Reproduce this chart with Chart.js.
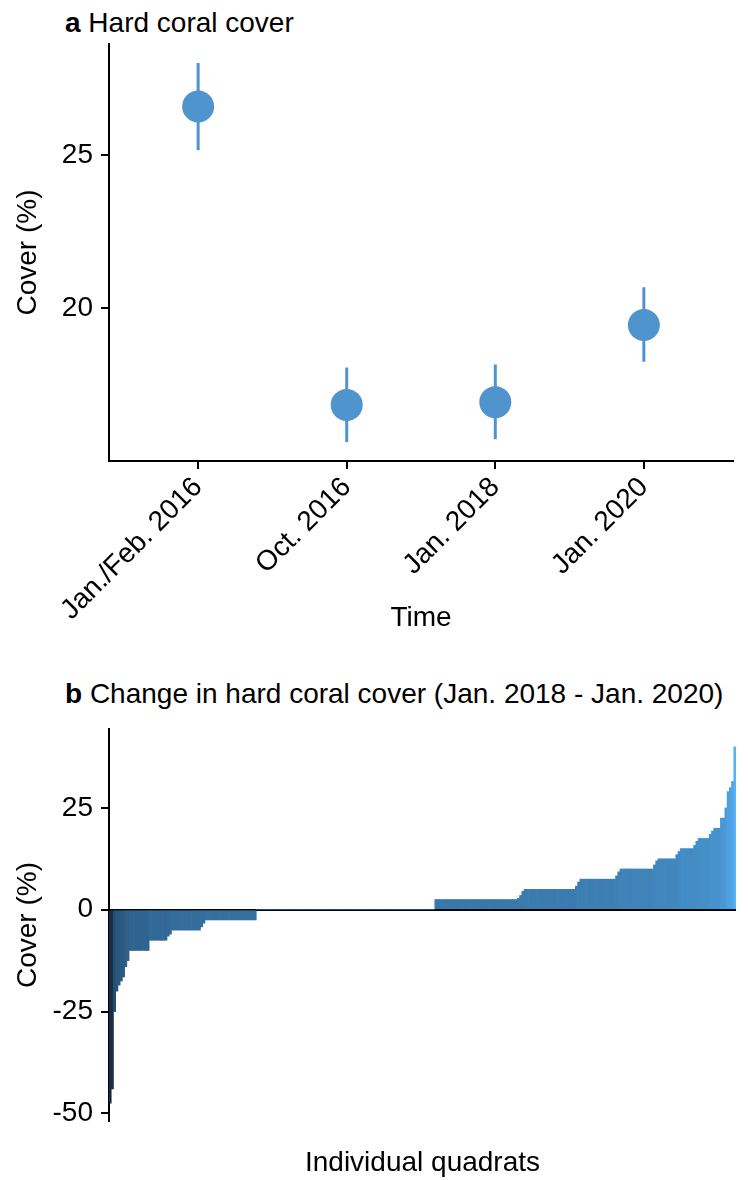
<!DOCTYPE html>
<html>
<head>
<meta charset="utf-8">
<title>Hard coral cover</title>
<script src="https://cdn.jsdelivr.net/npm/chart.js@4.4.1/dist/chart.umd.min.js"></script>
<style>
  html, body { margin: 0; padding: 0; background: #fff; }
  body {
    width: 749px; height: 1180px; position: relative; overflow: hidden;
    font-family: "Liberation Sans", Arial, sans-serif;
  }
  .panel-title {
    position: absolute; left: 65px;
    font-size: 28px; line-height: 28px; color: #000; white-space: nowrap;
  }
  #chartA { position: absolute; left: 0; top: 0; }
  #chartB { position: absolute; left: 0; top: 640px; }
</style>
</head>
<body>
<div class="panel-title" style="top:9px"><b>a</b> Hard coral cover</div>
<div class="panel-title" style="top:680px"><b>b</b> Change in hard coral cover (Jan. 2018 - Jan. 2020)</div>
<canvas id="chartA" width="749" height="640"></canvas>
<canvas id="chartB" width="749" height="540"></canvas>

<script>
/* ---------- data: panel a ---------- */
const timeLabels = ['Jan./Feb. 2016', 'Oct. 2016', 'Jan. 2018', 'Jan. 2020'];
const coverMean  = [26.58, 16.84, 16.93, 19.45];
const coverLow   = [25.15, 15.63, 15.72, 18.25];
const coverHigh  = [28.00, 18.06, 18.16, 20.68];
const coverTicks = [20, 25];

/* ---------- data: panel b (sorted change per quadrat) ---------- */
const changeTicks = [-50, -25, 0, 25];
const changeValues = [
  -47.5, -44, -25, -20, -18.5, -17.5, -16.5, -14, -12.5,
  -10, -10, -10, -10, -10, -10, -10, -10, -10,
  -7.5, -7.5, -7.5, -7.5, -7.5, -7.5, -7.5, -7.5,
  -6.5, -6,
  -5, -5, -5, -5, -5, -5, -5, -5, -5, -5, -5, -5, -5,
  -4.2, -3.3,
  -2.5, -2.5, -2.5, -2.5, -2.5, -2.5, -2.5, -2.5, -2.5, -2.5,
  -2.5, -2.5, -2.5, -2.5, -2.5, -2.5, -2.5, -2.5, -2.5, -2.5,
  -2.5, -2.5, -2.5,
  0, 0, 0, 0, 0, 0, 0, 0, 0, 0, 0, 0, 0, 0, 0, 0, 0, 0, 0, 0,
  0, 0, 0, 0, 0, 0, 0, 0, 0, 0, 0, 0, 0, 0, 0, 0, 0, 0, 0, 0,
  0, 0, 0, 0, 0, 0, 0, 0, 0, 0, 0, 0, 0, 0, 0, 0, 0, 0, 0, 0,
  0, 0, 0, 0, 0, 0, 0, 0, 0, 0, 0, 0, 0, 0, 0, 0, 0, 0, 0, 0,
  2.5, 2.5, 2.5, 2.5, 2.5, 2.5, 2.5, 2.5, 2.5, 2.5,
  2.5, 2.5, 2.5, 2.5, 2.5, 2.5, 2.5, 2.5, 2.5, 2.5,
  2.5, 2.5, 2.5, 2.5, 2.5, 2.5, 2.5, 2.5, 2.5, 2.5,
  2.5, 2.5, 2.5, 2.5, 2.5, 2.5, 2.5,
  2.8, 3.5, 4.5,
  5, 5, 5, 5, 5, 5, 5, 5, 5, 5, 5, 5,
  5, 5, 5, 5, 5, 5, 5, 5, 5, 5, 5,
  5.8, 6.8,
  7.5, 7.5, 7.5, 7.5, 7.5, 7.5, 7.5, 7.5,
  7.5, 7.5, 7.5, 7.5, 7.5, 7.5, 7.5, 7.5,
  8.3, 9.3,
  10, 10, 10, 10, 10, 10, 10, 10, 10, 10, 10, 10, 10, 10, 10,
  11, 12,
  12.5, 12.5, 12.5, 12.5, 12.5, 12.5, 12.5, 12.5,
  13.5, 14.3,
  15, 15, 15, 15, 15, 15,
  15.8, 16.8,
  17.5, 17.5, 17.5, 17.5, 17.5,
  18.5, 19.3,
  20, 20, 20,
  22.5, 22.5,
  25,
  29, 30,
  31.5,
  40
];

/* ---------- shared styles ---------- */
const dotColor = 'rgb(80,148,206)';
const font = { family: 'Liberation Sans', size: 28 };
const lowColor  = [19, 43, 67];    // #132B43
const highColor = [86, 177, 247];  // #56B1F7

function gradientColor(v, min, max) {
  const t = (v - min) / (max - min);
  const c = lowColor.map((lo, i) => Math.round(lo + t * (highColor[i] - lo)));
  return 'rgb(' + c.join(',') + ')';
}

function axisStyle() {
  return {
    grid: { drawOnChartArea: false, color: '#000', lineWidth: 2, tickLength: 8 },
    border: { color: '#000', width: 2 },
  };
}

Chart.defaults.color = '#000';
Chart.defaults.font.family = 'Liberation Sans';

/* ---------- panel a ---------- */
function initCoverChart() {
  const errorSegments = [];
  coverMean.forEach((_, i) => {
    errorSegments.push({ x: i, y: coverLow[i] }, { x: i, y: coverHigh[i] }, { x: i, y: null });
  });

  new Chart(document.getElementById('chartA'), {
    type: 'scatter',
    data: {
      datasets: [
        {
          data: coverMean.map((y, i) => ({ x: i, y: y })),
          backgroundColor: dotColor,
          borderWidth: 0,
          pointRadius: 16,
          pointHoverRadius: 16,
          order: 0,
        },
        {
          type: 'line',
          data: errorSegments,
          borderColor: dotColor,
          borderWidth: 3,
          pointRadius: 0,
          spanGaps: false,
          order: 1,
        },
      ],
    },
    options: {
      responsive: false,
      animation: false,
      layout: { padding: { top: 44, right: 13, left: 0, bottom: 0 } },
      plugins: { legend: { display: false }, tooltip: { enabled: false } },
      scales: {
        x: {
          type: 'linear',
          min: -0.6,
          max: 3.6,
          ...axisStyle(),
          afterBuildTicks: s => { s.ticks = timeLabels.map((_, i) => ({ value: i })); },
          afterFit: s => { s.height = 179; },
          ticks: {
            callback: v => timeLabels[v],
            autoSkip: false,
            minRotation: 45,
            maxRotation: 45,
            padding: 2,
            font: font,
          },
          title: { display: true, text: 'Time', font: font, padding: { top: 0, bottom: 5 } },
        },
        y: {
          min: 15.01,
          max: 28.62,
          ...axisStyle(),
          afterBuildTicks: s => { s.ticks = coverTicks.map(v => ({ value: v })); },
          afterFit: s => { s.width = 109; },
          ticks: { padding: 8, font: font },
          title: { display: true, text: 'Cover (%)', font: font, padding: { top: 11, bottom: 0 } },
        },
      },
    },
  });
}

/* ---------- panel b ---------- */
function initChangeChart() {
  const vMin = Math.min(...changeValues);
  const vMax = Math.max(...changeValues);
  const barColors = changeValues.map(v => gradientColor(v, vMin, vMax));

  new Chart(document.getElementById('chartB'), {
    type: 'bar',
    data: {
      labels: changeValues.map((_, i) => i + 1),
      datasets: [
        {
          data: changeValues,
          backgroundColor: barColors,
          borderWidth: 0,
          barPercentage: 1,
          categoryPercentage: 1,
        },
      ],
    },
    options: {
      responsive: false,
      animation: false,
      layout: { padding: { top: 89, right: 13, left: 0, bottom: 0 } },
      plugins: { legend: { display: false }, tooltip: { enabled: false } },
      scales: {
        x: {
          ticks: { display: false },
          grid: { display: false },
          border: { display: false },
          afterFit: s => { s.height = 59; },
          title: { display: true, text: 'Individual quadrats', font: font, padding: { top: 0, bottom: 0 } },
        },
        y: {
          min: -51.875,
          max: 44.375,
          z: 1,
          afterBuildTicks: s => { s.ticks = changeTicks.map(v => ({ value: v })); },
          afterFit: s => { s.width = 109; },
          grid: {
            // only the zero line is drawn across the panel
            color: c => (c.tick && c.tick.value === 0 ? '#000' : 'rgba(0,0,0,0)'),
            tickColor: '#000',
            lineWidth: 2,
            tickWidth: 2,
            tickLength: 8,
          },
          border: { color: '#000', width: 2 },
          ticks: { padding: 8, font: font, callback: v => String(v) },
          title: { display: true, text: 'Cover (%)', font: font, padding: { top: 11, bottom: 0 } },
        },
      },
    },
  });
}

initCoverChart();
initChangeChart();
</script>
</body>
</html>
